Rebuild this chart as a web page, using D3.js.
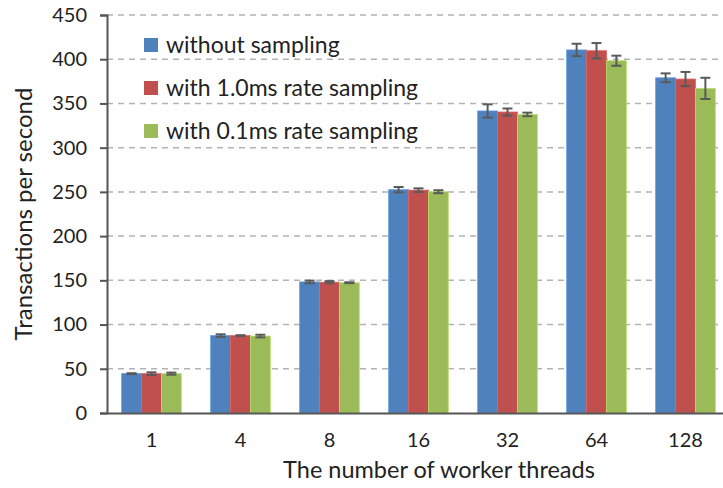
<!DOCTYPE html>
<html>
<head>
<meta charset="utf-8">
<script src="https://cdn.jsdelivr.net/npm/d3@7"></script>
<style>
  body { margin: 0; background: #fff; }
  text { font-family: Lato, "Open Sans", sans-serif; fill: #222; }
</style>
</head>
<body>
<div id="chart"></div>
<script>
// Chart data
const categories = ["1", "4", "8", "16", "32", "64", "128"];
const seriesNames = ["without sampling", "with 1.0ms rate sampling", "with 0.1ms rate sampling"];
const seriesColors = ["#4F81BD", "#C0504D", "#9BBB59"];
const noSampling = [44.5, 87.5, 148.2, 252.5, 341.5, 410.5, 379];
const sampling10 = [44.5, 87.5, 147.9, 252, 340.3, 409.6, 377.6];
const sampling01 = [44.5, 87, 147.3, 250.2, 337.6, 398.3, 367];
const errNoSampling = [0.5, 1.5, 1.5, 3, 7.5, 7, 5];
const errSampling10 = [1.5, 0.5, 1.2, 2, 4, 8.7, 8];
const errSampling01 = [1.2, 1.5, 0.5, 1.7, 2, 5.7, 12];
const yTicks = [0, 50, 100, 150, 200, 250, 300, 350, 400, 450];

const WIDTH = 723;
const HEIGHT = 488;
const margin = { left: 107, top: 15, right: -7, bottom: 75 };

const svg = d3.select("#chart")
  .append("svg")
  .attr("width", WIDTH)
  .attr("height", HEIGHT);

const x0 = d3.scaleBand()
  .domain(categories)
  .range([margin.left, WIDTH - margin.right])
  .paddingInner(0.33)
  .paddingOuter(0.165);

const x1 = d3.scaleBand()
  .domain(d3.range(3))
  .range([0, x0.bandwidth()]);

const y = d3.scaleLinear()
  .domain([0, 450])
  .range([HEIGHT - margin.bottom, margin.top]);

// Gridlines
svg.append("g")
  .selectAll("line")
  .data(yTicks.filter(d => d > 0))
  .join("line")
  .attr("x1", margin.left)
  .attr("x2", WIDTH)
  .attr("y1", d => y(d))
  .attr("y2", d => y(d))
  .attr("stroke", "#b3b3b3")
  .attr("stroke-width", 1.5)
  .attr("stroke-dasharray", "6,5");

// Bars
const values = [noSampling, sampling10, sampling01];
const errors = [errNoSampling, errSampling10, errSampling01];
const rows = [];
categories.forEach((c, i) => {
  for (let s = 0; s < 3; s++) {
    rows.push({ cat: c, s, v: values[s][i], e: errors[s][i] });
  }
});

svg.append("g")
  .selectAll("rect")
  .data(rows)
  .join("rect")
  .attr("x", d => x0(d.cat) + x1(d.s))
  .attr("y", d => y(d.v))
  .attr("width", x1.bandwidth())
  .attr("height", d => y(0) - y(d.v))
  .attr("fill", d => seriesColors[d.s])
  .attr("stroke", d => d3.color(seriesColors[d.s]).brighter(0.5))
  .attr("stroke-width", 0.8);

// Error bars
const eb = svg.append("g")
  .attr("stroke", "#5a5a5a")
  .attr("stroke-width", 2);

rows.forEach(d => {
  const cx = x0(d.cat) + x1(d.s) + x1.bandwidth() / 2;
  eb.append("line")
    .attr("x1", cx).attr("x2", cx)
    .attr("y1", y(d.v + d.e)).attr("y2", y(d.v - d.e));
  [d.v + d.e, d.v - d.e].forEach(t => {
    eb.append("line")
      .attr("x1", cx - 5).attr("x2", cx + 5)
      .attr("y1", y(t)).attr("y2", y(t));
  });
});

// Y axis
const yAxis = svg.append("g")
  .attr("transform", `translate(${margin.left},0)`)
  .call(d3.axisLeft(y).tickValues(yTicks).tickSize(7).tickPadding(13));
yAxis.select(".domain").attr("stroke", "#555").attr("stroke-width", 2);
yAxis.selectAll(".tick line").attr("stroke", "#555").attr("stroke-width", 2);
yAxis.selectAll("text").style("font-size", "20px").attr("fill", "#222");

// X axis
const xAxis = svg.append("g")
  .attr("transform", `translate(0,${y(0)})`)
  .call(d3.axisBottom(x0).tickSize(0).tickPadding(20));
xAxis.select(".domain").attr("stroke", "#555").attr("stroke-width", 2);
xAxis.selectAll("text").style("font-size", "20px").attr("fill", "#222");

// Axis titles
svg.append("text")
  .attr("transform", `translate(32,${(y(0) + y(450)) / 2}) rotate(-90)`)
  .attr("text-anchor", "middle")
  .style("font-size", "24px")
  .text("Transactions per second");

svg.append("text")
  .attr("x", 439)
  .attr("y", 478)
  .attr("text-anchor", "middle")
  .style("font-size", "23.5px")
  .text("The number of worker threads");

// Legend
const legend = svg.append("g")
  .selectAll("g")
  .data(seriesNames)
  .join("g")
  .attr("transform", (d, i) => `translate(144,${38 + i * 43})`);

legend.append("rect")
  .attr("width", 14)
  .attr("height", 14)
  .attr("fill", (d, i) => seriesColors[i]);

legend.append("text")
  .attr("x", 22)
  .attr("y", 15)
  .style("font-size", "23px")
  .text(d => d);
</script>
</body>
</html>
